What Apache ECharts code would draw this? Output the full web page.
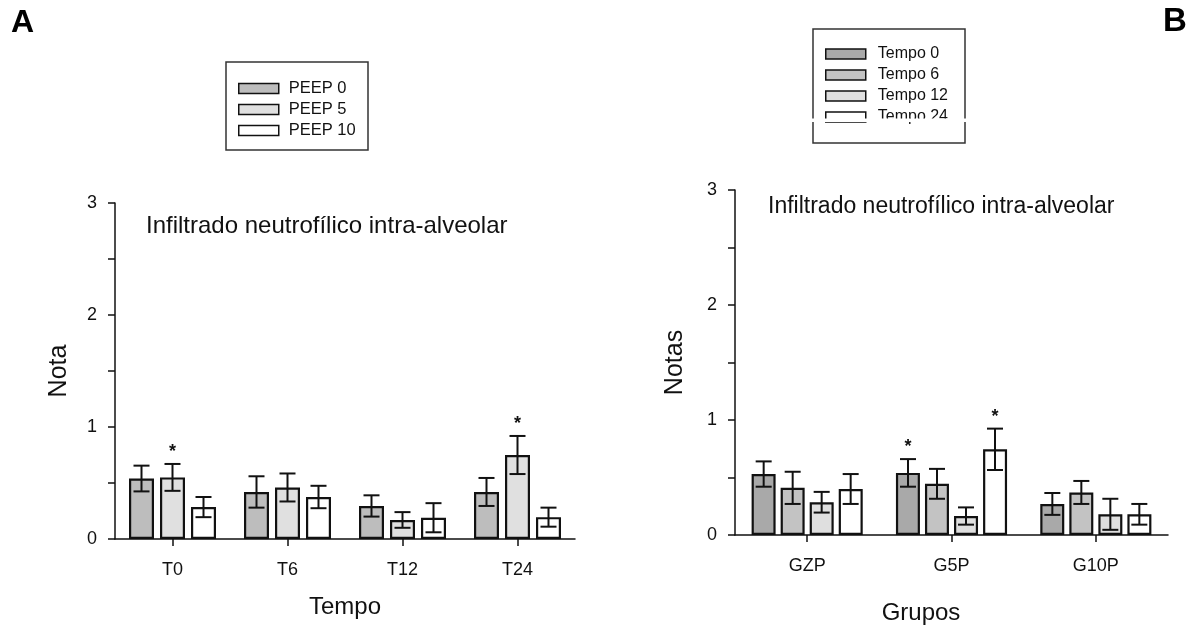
<!DOCTYPE html>
<html>
<head>
<meta charset="utf-8">
<script src="https://cdn.jsdelivr.net/npm/echarts@6/dist/echarts.min.js"></script>
<style>html,body{margin:0;padding:0;background:#fff;}#c{width:1200px;height:630px;}</style>
</head>
<body>
<div id="c"></div>
<script>
// ---- Panel A data ----
const catsA = ['T0', 'T6', 'T12', 'T24'];
const namesA = ['PEEP 0', 'PEEP 5', 'PEEP 10'];
const peep0 = [0.54, 0.42, 0.295, 0.42];
const peep0Err = [0.115, 0.14, 0.095, 0.125];
const peep5 = [0.55, 0.46, 0.17, 0.75];
const peep5Err = [0.12, 0.125, 0.07, 0.17];
const peep10 = [0.285, 0.375, 0.19, 0.195];
const peep10Err = [0.09, 0.10, 0.13, 0.085];
const starsA = [[0, 1], [3, 1]]; // [category index, series index]

// ---- Panel B data ----
const catsB = ['GZP', 'G5P', 'G10P'];
const namesB = ['Tempo 0', 'Tempo 6', 'Tempo 12', 'Tempo 24'];
const tempo0 = [0.53, 0.54, 0.27];
const tempo0Err = [0.11, 0.12, 0.095];
const tempo6 = [0.41, 0.445, 0.37];
const tempo6Err = [0.14, 0.13, 0.10];
const tempo12 = [0.285, 0.165, 0.18];
const tempo12Err = [0.09, 0.075, 0.135];
const tempo24 = [0.40, 0.745, 0.18];
const tempo24Err = [0.13, 0.18, 0.09];
const starsB = [[1, 0], [1, 3]];

const yTicks = ['0', '1', '2', '3'];

const colorsA = ['#bdbdbd', '#e0e0e0', '#ffffff'];
const colorsB = ['#a9a9a9', '#c3c3c3', '#dfdfdf', '#ffffff'];
const FONT = "'Liberation Sans', Arial, sans-serif";
const INK = '#111';

const meansA = [peep0, peep5, peep10];
const errsA = [peep0Err, peep5Err, peep10Err];
const meansB = [tempo0, tempo6, tempo12, tempo24];
const errsB = [tempo0Err, tempo6Err, tempo12Err, tempo24Err];

function errData(means, errs, stars) {
  const out = [];
  means.forEach((arr, k) => arr.forEach((m, c) => {
    const st = stars.some(s => s[0] === c && s[1] === k) ? 1 : 0;
    out.push([c, k, m, errs[k][c], st]);
  }));
  return out;
}

function makeRender(n, bw, gap, capW) {
  return function (params, api) {
    const c = api.value(0), k = api.value(1), m = api.value(2), e = api.value(3), st = api.value(4);
    const base = api.coord([c, 0]);
    const x = base[0] + (k - (n - 1) / 2) * (bw + gap);
    const yt = api.coord([c, m + e])[1];
    const yb = api.coord([c, m - e])[1];
    const style = { stroke: INK, lineWidth: 2 };
    const children = [
      { type: 'line', shape: { x1: x, y1: yt, x2: x, y2: yb }, style },
      { type: 'line', shape: { x1: x - capW / 2, y1: yt, x2: x + capW / 2, y2: yt }, style },
      { type: 'line', shape: { x1: x - capW / 2, y1: yb, x2: x + capW / 2, y2: yb }, style }
    ];
    if (st) {
      children.push({ type: 'text', style: { text: '*', x: x, y: yt - 12, fill: INK, font: 'bold 18px ' + FONT, align: 'center', verticalAlign: 'middle' } });
    }
    return { type: 'group', children };
  };
}

function yAxisCfg(grid, name, gap) {
  return {
    type: 'value', gridIndex: grid, min: 0, max: 3, interval: 1,
    name: name, nameLocation: 'middle', nameGap: gap,
    nameTextStyle: { fontFamily: FONT, fontSize: 25, color: INK },
    axisLine: { show: true, lineStyle: { color: INK, width: 1.5 } },
    axisTick: { show: true, length: 7, lineStyle: { color: INK, width: 1.5 } },
    minorTick: { show: true, splitNumber: 2, length: 7, lineStyle: { color: INK, width: 1.5 } },
    splitLine: { show: false },
    axisLabel: { fontFamily: FONT, fontSize: 18, color: INK, margin: 18, formatter: v => yTicks[Math.round(v)] }
  };
}

function xAxisCfg(grid, cats, name, gap, pad) {
  return {
    type: 'category', gridIndex: grid, data: cats,
    name: name, nameLocation: 'middle', nameGap: gap,
    nameTextStyle: { fontFamily: FONT, fontSize: 24, color: INK, padding: pad },
    axisLine: { show: true, lineStyle: { color: INK, width: 1.5 } },
    axisTick: { show: true, alignWithLabel: true, length: 7, lineStyle: { color: INK, width: 1.5 } },
    axisLabel: { fontFamily: FONT, fontSize: 18, color: INK, margin: 22 }
  };
}

const series = [];
namesA.forEach((nm, k) => series.push({
  name: nm, type: 'bar', xAxisIndex: 0, yAxisIndex: 0, data: meansA[k],
  barWidth: 25, barGap: '24%',
  itemStyle: { color: colorsA[k], borderColor: INK, borderWidth: 2.2 }
}));
namesB.forEach((nm, k) => series.push({
  name: nm, type: 'bar', xAxisIndex: 1, yAxisIndex: 1, data: meansB[k],
  barWidth: 24, barGap: '21%',
  itemStyle: { color: colorsB[k], borderColor: INK, borderWidth: 2.2 }
}));
series.push({
  type: 'custom', xAxisIndex: 0, yAxisIndex: 0, z: 5,
  renderItem: makeRender(3, 25, 6, 16), encode: { x: 0, y: 2 },
  data: errData(meansA, errsA, starsA)
});
series.push({
  type: 'custom', xAxisIndex: 1, yAxisIndex: 1, z: 5,
  renderItem: makeRender(4, 24, 5, 16), encode: { x: 0, y: 2 },
  data: errData(meansB, errsB, starsB)
});

const legendCommon = {
  orient: 'vertical', padding: 0, itemWidth: 40, itemHeight: 10, icon: 'rect',
  selectedMode: false,
  itemStyle: { borderColor: INK, borderWidth: 1.5 },
  textStyle: { fontFamily: FONT, color: INK, lineHeight: 12, padding: [0, 0, 0, 5] }
};

const option = {
  animation: false,
  backgroundColor: '#fff',
  grid: [
    { left: 115, top: 203, width: 460, height: 336 },
    { left: 735, top: 190, width: 433, height: 349 }
  ],
  xAxis: [xAxisCfg(0, catsA, 'Tempo', 56, [0, 0, 0, 0]), xAxisCfg(1, catsB, 'Grupos', 66, [0, 61, 0, 0])],
  yAxis: [yAxisCfg(0, 'Nota', 43), yAxisCfg(1, 'Notas', 47)],
  legend: [
    Object.assign({}, legendCommon, { data: namesA, left: 238, top: 80, itemGap: 4,
      textStyle: Object.assign({}, legendCommon.textStyle, { fontSize: 16.5 }) }),
    Object.assign({}, legendCommon, { data: namesB, left: 825, top: 46, itemGap: 5,
      textStyle: Object.assign({}, legendCommon.textStyle, { fontSize: 16, padding: [0, 0, 0, 7] }) })
  ],
  graphic: [
    { type: 'rect', shape: { x: 226, y: 62, width: 142, height: 88 }, style: { fill: 'none', stroke: '#333', lineWidth: 1.5 }, z: 10 },
    { type: 'rect', shape: { x: 813, y: 29, width: 152, height: 114 }, style: { fill: 'none', stroke: '#333', lineWidth: 1.5 }, z: 10 },
    { type: 'rect', shape: { x: 805, y: 118.5, width: 170, height: 3.5 }, style: { fill: '#fff' }, z: 200 },
    { type: 'text', style: { text: 'Infiltrado neutrofílico intra-alveolar', x: 146, y: 226, font: '24px ' + FONT, fill: INK, verticalAlign: 'middle' }, z: 10 },
    { type: 'text', style: { text: 'Infiltrado neutrofílico intra-alveolar', x: 768, y: 207, font: '23px ' + FONT, fill: INK, verticalAlign: 'middle' }, z: 10 },
    { type: 'text', style: { text: 'A', x: 11, y: 23, font: 'bold 32px ' + FONT, fill: '#000', verticalAlign: 'middle' }, z: 10 },
    { type: 'text', style: { text: 'B', x: 1163, y: 22, font: 'bold 33px ' + FONT, fill: '#000', verticalAlign: 'middle' }, z: 10 }
  ],
  series
};

const chart = echarts.init(document.getElementById('c'), null, { renderer: 'canvas' });
chart.setOption(option);
</script>
</body>
</html>
